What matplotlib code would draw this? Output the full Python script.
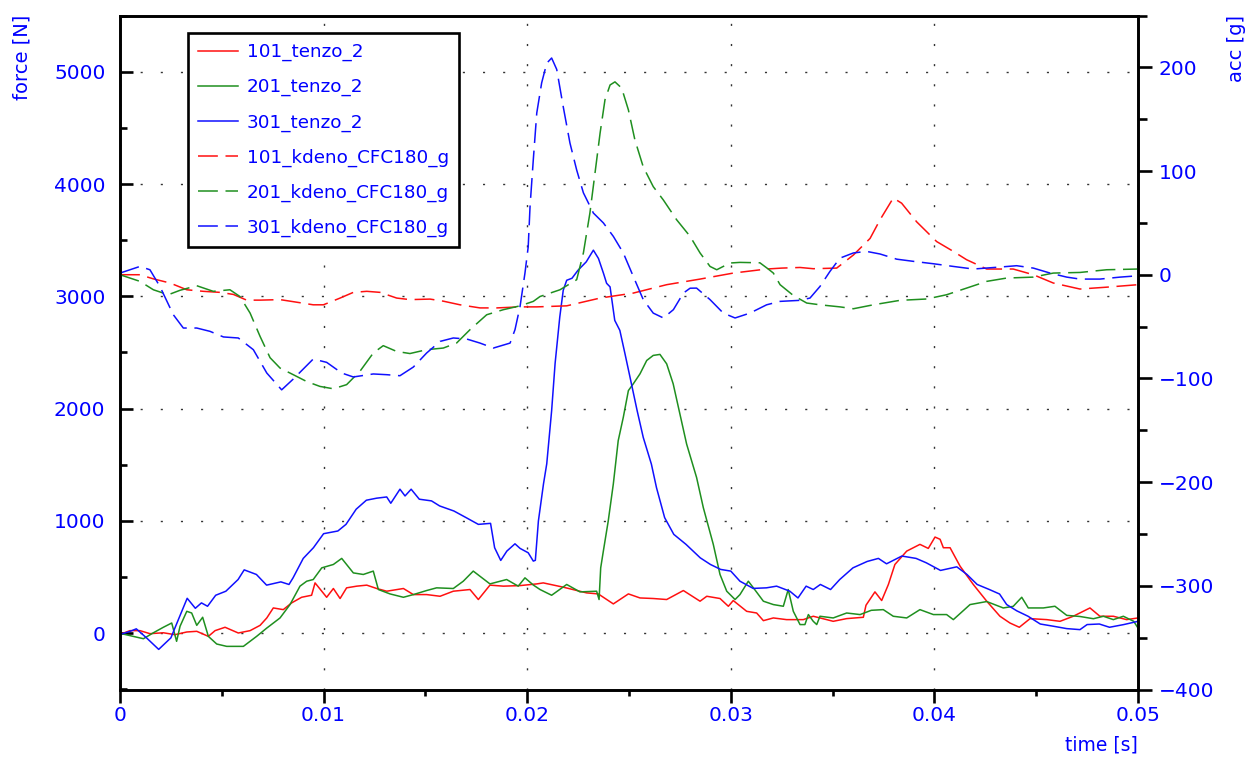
import numpy as np
import matplotlib
matplotlib.use("Agg")
import matplotlib.pyplot as plt
from matplotlib.ticker import MultipleLocator, FuncFormatter

plt.rcParams['font.family'] = ['DejaVu Sans']

# time [ms], force [N] -- strain gauge channels (left axis)
tenzo_101 = [(0, -10), (0.49, 24), (0.98, 24), (1.47, -3), (2.13, 5), (2.70, -12), (3.28, 12), (3.77, 18),
             (4.34, -27), (4.67, 24), (5.16, 54), (5.81, 3), (6.39, 24), (6.88, 71), (7.21, 137), (7.53, 226),
             (8.02, 211), (8.43, 271), (8.92, 321), (9.41, 339), (9.58, 449), (9.91, 375), (10.15, 321),
             (10.48, 399), (10.81, 310), (11.13, 405), (11.63, 420), (12.12, 429), (12.61, 399), (13.10, 375),
             (13.92, 399), (14.41, 345), (15.06, 345), (15.72, 330), (16.37, 375), (17.19, 390), (17.60, 301),
             (18.17, 429), (18.83, 420), (19.65, 425), (20.47, 440), (20.79, 449), (21.77, 411), (22.92, 360),
             (23.49, 351), (24.23, 262), (24.97, 351), (25.54, 315), (26.19, 310), (26.85, 301), (27.67, 381),
             (28.49, 286), (28.82, 330), (29.47, 310), (29.88, 241), (30.12, 292), (30.78, 196), (31.27, 181),
             (31.60, 113), (32.09, 137), (32.74, 122), (33.56, 122), (34.05, 152), (34.71, 122), (35.03, 107),
             (35.69, 131), (36.51, 143), (36.64, 250), (37.08, 369), (37.41, 292), (37.74, 435), (38.06, 613),
             (38.64, 732), (39.29, 792), (39.70, 756), (40.03, 857), (40.28, 837), (40.44, 762), (40.77, 762),
             (41.26, 598), (41.91, 435), (42.57, 286), (43.22, 152), (43.71, 92), (44.17, 54), (44.70, 131),
             (45.52, 122), (46.17, 107), (46.82, 152), (47.64, 226), (48.13, 152), (48.79, 152), (49.44, 122),
             (50.0, 137)]

tenzo_201 = [(0, 0), (0.65, -27), (1.15, -48), (1.64, 5), (2.13, 54), (2.54, 92), (2.78, -71), (2.95, 63),
             (3.28, 196), (3.52, 181), (3.77, 71), (4.06, 143), (4.34, -27), (4.75, -95), (5.24, -116),
             (6.06, -116), (6.71, -27), (7.21, 47), (7.86, 137), (8.35, 256), (8.84, 420), (9.17, 464),
             (9.49, 479), (9.91, 583), (10.48, 613), (10.89, 667), (11.46, 538), (11.95, 524), (12.44, 554),
             (12.69, 390), (13.26, 351), (13.92, 321), (14.41, 345), (15.06, 381), (15.55, 405), (16.37, 399),
             (16.86, 464), (17.35, 554), (18.17, 440), (18.99, 479), (19.56, 420), (19.89, 494), (20.30, 430),
             (20.63, 390), (21.20, 339), (21.94, 435), (22.59, 369), (23.41, 375), (23.53, 301), (23.61, 583),
             (23.74, 732), (23.98, 1000), (24.23, 1330), (24.47, 1715), (24.72, 1923), (24.97, 2161),
             (25.21, 2221), (25.54, 2310), (25.87, 2429), (26.19, 2474), (26.52, 2483), (26.85, 2399),
             (27.17, 2221), (27.50, 1953), (27.83, 1685), (28.32, 1387), (28.65, 1119), (29.14, 792),
             (29.47, 524), (29.80, 375), (30.21, 301), (30.45, 345), (30.86, 464), (31.11, 405), (31.60, 286),
             (32.09, 256), (32.58, 241), (32.82, 390), (33.07, 196), (33.40, 78), (33.64, 78), (33.81, 167),
             (34.05, 107), (34.22, 78), (34.38, 152), (35.03, 137), (35.69, 181), (36.35, 167), (36.90, 205),
             (37.49, 211), (37.98, 152), (38.64, 137), (39.29, 211), (39.95, 167), (40.60, 167), (40.93, 122),
             (41.75, 256), (42.57, 283), (43.38, 226), (43.87, 240), (44.29, 321), (44.61, 226), (45.35, 226),
             (45.92, 241), (46.50, 160), (47.15, 150), (47.81, 130), (48.30, 152), (48.79, 122), (49.28, 152),
             (49.79, 107), (50.0, 47)]

tenzo_301 = [(0, -10), (0.5, 18), (0.8, 40), (1.3, -40), (1.9, -143), (2.5, -40), (2.9, 137), (3.3, 312),
             (3.7, 223), (4.0, 271), (4.3, 241), (4.7, 339), (5.2, 375), (5.8, 479), (6.1, 565), (6.7, 524),
             (7.2, 429), (7.9, 458), (8.3, 435), (8.5, 494), (9.0, 667), (9.5, 762), (10.0, 887), (10.7, 911),
             (11.1, 970), (11.6, 1105), (12.1, 1185), (12.6, 1203), (13.1, 1214), (13.3, 1158), (13.75, 1283),
             (14.0, 1223), (14.3, 1283), (14.7, 1194), (15.3, 1179), (15.7, 1134), (16.4, 1089), (17.0, 1030),
             (17.6, 970), (18.2, 979), (18.4, 762), (18.7, 649), (19.0, 732), (19.4, 797), (19.65, 756),
             (20.05, 717), (20.3, 643), (20.4, 650), (20.55, 1000), (20.8, 1330), (20.96, 1509), (21.2, 1982),
             (21.37, 2402), (21.6, 2816), (21.77, 3054), (21.94, 3143), (22.2, 3161), (22.5, 3233), (22.9, 3307),
             (23.25, 3411), (23.5, 3337), (23.75, 3203), (23.9, 3116), (24.07, 3084), (24.3, 2786), (24.55, 2697),
             (24.8, 2491), (25.05, 2280), (25.4, 1982), (25.7, 1744), (26.1, 1506), (26.35, 1297), (26.75, 1030),
             (27.2, 881), (27.8, 792), (28.5, 672), (29.0, 613), (29.5, 569), (30.0, 554), (30.45, 464),
             (31.1, 400), (31.75, 405), (32.25, 420), (32.9, 375), (33.3, 315), (33.7, 420), (34.05, 390),
             (34.4, 435), (34.9, 390), (35.35, 479), (36.0, 583), (36.7, 640), (37.25, 667), (37.65, 619),
             (38.4, 688), (39.1, 667), (39.6, 628), (40.3, 560), (41.1, 592), (41.6, 524), (42.1, 435),
             (42.7, 390), (43.2, 350), (43.55, 256), (44.05, 200), (44.6, 152), (45.2, 83), (45.85, 63),
             (46.5, 42), (47.15, 33), (47.5, 78), (48.1, 83), (48.6, 54), (49.3, 78), (50.0, 107)]

# time [ms], acceleration [g] -- CFC180 filtered channels (right axis)
kdeno_101 = [(0, 0), (0.98, 0), (1.64, -4), (2.46, -8), (3.28, -14.5), (4.09, -16), (4.91, -17), (5.57, -19),
             (6.22, -24.5), (6.88, -24.5), (7.86, -24), (8.68, -26.5), (9.49, -29), (9.99, -29), (10.81, -22.5),
             (11.46, -17), (12.12, -16), (12.77, -17), (13.59, -22.5), (14.24, -24), (15.23, -23.5),
             (15.88, -25.5), (16.70, -29), (17.68, -32), (18.50, -32), (19.65, -31), (20.47, -31), (21.94, -30),
             (23.58, -22.5), (25.21, -17.7), (26.85, -9.6), (28.49, -4.2), (30.12, 1.6), (31.76, 5.5),
             (32.5, 6.4), (33.4, 7), (34.05, 5.8), (35.20, 6.4), (36.02, 19), (36.84, 35), (37.33, 53),
             (37.98, 74), (38.39, 69), (39.13, 51), (40.11, 32), (40.93, 22.5), (41.58, 14.5), (42.57, 5.5),
             (43.87, 5.5), (44.86, 0), (45.84, -8), (47.15, -13.8), (48.46, -12), (50.0, -9.6)]

kdeno_201 = [(0, 0), (0.98, -6.4), (1.64, -14.5), (2.37, -19.3), (2.95, -15), (3.77, -10.6), (4.58, -16),
             (5.40, -14.5), (5.89, -21), (6.39, -37), (6.88, -59.5), (7.37, -80), (7.86, -90), (8.51, -96.4),
             (9.17, -103), (9.82, -107.7), (10.48, -110), (11.13, -106), (11.79, -93), (12.44, -75.5),
             (12.93, -68.4), (13.59, -74), (14.24, -76), (15.06, -72.3), (15.88, -70.7), (16.53, -65.9),
             (17.19, -53), (18.01, -38.6), (18.83, -33.7), (19.65, -30), (20.30, -25.7), (20.63, -21),
             (21.61, -14.5), (22.43, -4.8), (22.76, 21), (23.08, 59.5), (23.33, 98), (23.58, 136.6),
             (23.82, 168.7), (24.07, 183), (24.31, 186), (24.64, 180), (24.97, 159), (25.29, 130), (25.70, 104),
             (26.19, 85), (26.69, 72), (27.34, 53), (28.0, 37), (28.49, 21), (28.98, 8), (29.31, 4.8),
             (29.96, 11.3), (30.45, 11.9), (31.43, 11.5), (31.84, 5.5), (32.09, 1.6), (32.42, -9.6),
             (33.07, -20), (33.73, -27.3), (34.38, -29), (35.36, -31), (36.02, -32.8), (37.0, -29),
             (38.31, -24.7), (39.62, -23.4), (40.60, -19.3), (41.58, -12.9), (42.57, -6.4), (43.55, -3.2),
             (44.86, -2.3), (45.84, 1.6), (47.15, 2.2), (48.46, 4.8), (50.0, 5.5)]

kdeno_301 = [(0, 1.6), (0.98, 8), (1.47, 4.8), (1.96, -11.3), (2.62, -38.6), (3.11, -51.4), (3.77, -51.4),
             (4.42, -54.6), (5.08, -60), (5.81, -61), (6.55, -72.3), (7.21, -94.8), (7.94, -111), (8.51, -100.6),
             (9.49, -81.3), (10.15, -84.5), (10.89, -94.8), (11.46, -98.6), (12.44, -95.7), (13.10, -96.4),
             (13.75, -97.4), (14.41, -89), (15.06, -75.5), (15.72, -64.3), (16.37, -61), (17.03, -62),
             (17.68, -65.9), (18.34, -70.7), (19.16, -65.9), (19.40, -53), (19.65, -30.5), (19.89, 1.6),
             (20.05, 27), (20.14, 66), (20.30, 111), (20.47, 156), (20.71, 185), (20.96, 204), (21.20, 209),
             (21.45, 198), (21.77, 162), (22.10, 127), (22.43, 101), (22.76, 79), (23.25, 59.5), (23.74, 50),
             (24.23, 37), (24.72, 21), (25.21, -1.6), (25.70, -24), (26.19, -37), (26.69, -41.7), (27.18, -33.7),
             (27.67, -17.7), (28.0, -13), (28.32, -12.9), (28.98, -24), (29.63, -37), (30.21, -41.7),
             (30.94, -37), (31.76, -29), (32.42, -25.7), (33.40, -24.7), (33.89, -22.5), (34.38, -11.3),
             (34.87, 3.2), (35.36, 16), (36.02, 21), (36.67, 22.5), (37.33, 20), (38.15, 15), (38.97, 12.9),
             (39.95, 10.6), (40.93, 8), (41.91, 5.5), (43.22, 7.4), (44.04, 8.7), (44.86, 6.4), (45.68, 1.6),
             (46.50, -2.3), (47.15, -4.2), (48.13, -4.2), (49.12, -2.3), (50.0, -1)]

labels = ["101_tenzo_2", "201_tenzo_2", "301_tenzo_2",
          "101_kdeno_CFC180_g", "201_kdeno_CFC180_g", "301_kdeno_CFC180_g"]

RED, GREEN, BLUE = "#ff1010", "#1f8f1f", "#1010ff"
TXT = "#0000ff"


def split(series):
    arr = np.array(series, dtype=float)
    return arr[:, 0] / 1000.0, arr[:, 1]


W, H = 1248, 758
fig = plt.figure(figsize=(W / 100, H / 100), dpi=100)
L, R, B, T = 120, 1138, 689.5, 15.5
ax = fig.add_axes([L / W, 1 - B / H, (R - L) / W, (B - T) / H])
ax2 = ax.twinx()

handles = []
for data, col in [(tenzo_101, RED), (tenzo_201, GREEN), (tenzo_301, BLUE)]:
    t, v = split(data)
    h, = ax.plot(t, v, color=col, lw=1.1)
    handles.append(h)
for data, col in [(kdeno_101, RED), (kdeno_201, GREEN), (kdeno_301, BLUE)]:
    t, v = split(data)
    h, = ax2.plot(t, v, color=col, lw=1.1, dashes=(13, 5))
    handles.append(h)

ax.set_xlim(0, 0.05)
ax.set_ylim(-500, 5500)
ax2.set_ylim(-400, 250)

ax.xaxis.set_major_locator(MultipleLocator(0.01))
ax.xaxis.set_minor_locator(MultipleLocator(0.005))
ax.yaxis.set_major_locator(MultipleLocator(1000))
ax.yaxis.set_minor_locator(MultipleLocator(500))
ax2.yaxis.set_major_locator(MultipleLocator(100))
ax2.yaxis.set_minor_locator(MultipleLocator(50))
ax.xaxis.set_major_formatter(FuncFormatter(lambda v, p: "0" if abs(v) < 1e-12 else f"{v:.2f}"))

ax.grid(True, which="major", color="#333333", lw=1.0, linestyle=(0, (1.5, 13)))

for a in (ax, ax2):
    for s in a.spines.values():
        s.set_linewidth(1.9)
        s.set_color("black")

ax.tick_params(axis="y", which="major", direction="in", length=9.5, width=1.9, pad=10.5,
               labelsize=14.5, labelcolor=TXT)
ax.tick_params(axis="y", which="minor", direction="in", length=5, width=1.9)
ax.tick_params(axis="x", which="major", direction="out", length=9, width=1.9, pad=3,
               labelsize=14.5, labelcolor=TXT)
ax.tick_params(axis="x", which="minor", direction="out", length=4.5, width=1.9)
ax2.tick_params(axis="y", which="major", direction="out", length=10, width=1.9, pad=5,
                labelsize=14.5, labelcolor=TXT)
ax2.tick_params(axis="y", which="minor", direction="out", length=6.5, width=1.9)

fig.text(22 / W, 1 - 15 / H, "force [N]", rotation=90, ha="center", va="top", color=TXT, fontsize=14)
fig.text(1237 / W, 1 - 15 / H, "acc [g]", rotation=90, ha="center", va="top", color=TXT, fontsize=14)
fig.text(1138 / W, 1 - 745 / H, "time [s]", ha="right", va="center", color=TXT, fontsize=13.5)

leg = ax2.legend(handles, labels, loc="upper left", bbox_to_anchor=((188 - L) / (R - L), (B - 33) / (B - T)),
                 borderaxespad=0, frameon=True, fancybox=False, framealpha=1, edgecolor="black",
                 fontsize=13.2, labelcolor=TXT, handlelength=2.2, handletextpad=0.45,
                 labelspacing=0.92, borderpad=0.55)
leg.get_frame().set_linewidth(1.9)

fig.savefig("out.png", dpi=100)
